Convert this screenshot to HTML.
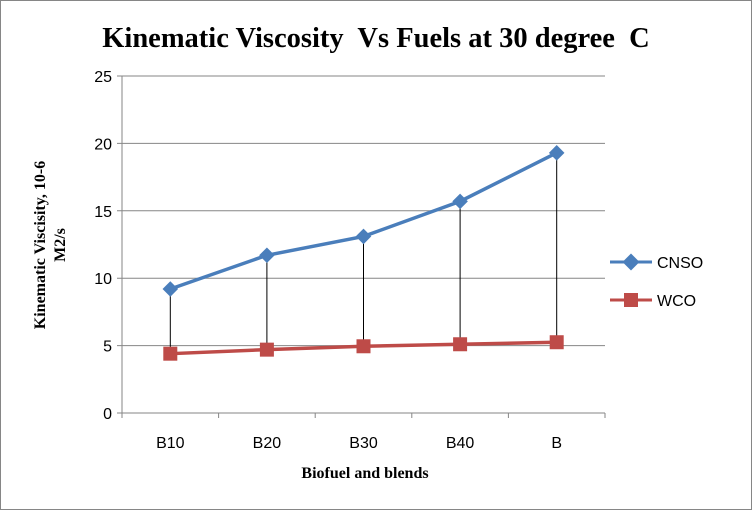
<!DOCTYPE html>
<html><head><meta charset="utf-8"><style>
body{margin:0;background:#fff}
svg{display:block}
text{font-family:"Liberation Serif",serif}
</style></head><body>
<svg id="c" width="752" height="510">
<rect x="0.5" y="0.5" width="751" height="509" fill="#fff" stroke="#868686"/>
<text x="376" y="47" text-anchor="middle" font-size="28.5" font-weight="bold" style="white-space:pre" xml:space="preserve">Kinematic Viscosity  Vs Fuels at 30 degree  C</text>
<g id="grid"></g><g id="axes"></g><g id="drops"></g><g id="series"></g>
<text x="365" y="478" text-anchor="middle" font-size="16" font-weight="bold">Biofuel and blends</text>
<text transform="translate(45,245) rotate(-90)" text-anchor="middle" font-size="16" font-weight="bold"><tspan x="0" dy="0">Kinematic Viscisity, 10-6</tspan><tspan x="0" dy="20">M2/s</tspan></text>
<g>
<g><line x1="610" y1="262" x2="652" y2="262" stroke="#4a7ebb" stroke-width="3"/><rect x="625" y="256" width="12" height="12" fill="#4a7ebb" transform="rotate(45 631 262)"/><text x="657" y="268" font-size="16" style="font-family:'Liberation Sans',sans-serif">CNSO</text></g>
<g><line x1="610" y1="300" x2="652" y2="300" stroke="#be4b48" stroke-width="3"/><rect x="624" y="293" width="14" height="14" fill="#be4b48"/><text x="657" y="306" font-size="16" style="font-family:'Liberation Sans',sans-serif">WCO</text></g>
</g>
</svg>
<script>
const categories=["B10","B20","B30","B40","B"];
const cnso=[9.2,11.7,13.1,15.7,19.3];
const wco=[4.4,4.7,4.95,5.1,5.25];
const yTicks=[0,5,10,15,20,25];
const NS="http://www.w3.org/2000/svg";
const L=122,R=605,T=76,B=413,yMax=25;
const xs=i=>L+(R-L)/categories.length*(i+0.5);
const ys=v=>B-(B-T)*v/yMax;
function mk(tag,attrs,parent){const e=document.createElementNS(NS,tag);for(const k in attrs)e.setAttribute(k,attrs[k]);document.getElementById(parent).appendChild(e);return e;}
yTicks.forEach(t=>{
 const g=mk('line',{x1:L-5,x2:R,y1:ys(t),y2:ys(t),stroke:'#868686','stroke-width':1},'grid');
 
 
 const tx=mk('text',{x:L-10,y:ys(t)+6,'text-anchor':'end','font-size':16},'axes');
 tx.style.fontFamily="'Liberation Sans',sans-serif";
 tx.textContent=t;
 
 
});
const ya=mk('line',{x1:L,x2:L,y1:T,y2:B,stroke:'#868686'},'axes');


for(let i=0;i<=categories.length;i++){const x=L+(R-L)/categories.length*i;mk('line',{x1:x,x2:x,y1:B,y2:B+5,stroke:'#868686'},'axes');}
categories.forEach((c,i)=>{
 const tx=mk('text',{x:xs(i),y:B+35,'text-anchor':'middle','font-size':16},'axes');
 tx.style.fontFamily="'Liberation Sans',sans-serif";
 tx.textContent=c;
 
 
 const d=mk('line',{x1:xs(i),x2:xs(i),y1:ys(cnso[i]),y2:ys(wco[i]),stroke:'#000'},'drops');
 
 
});
function series(vals,color,name,marker){
 const p=mk('polyline',{points:vals.map((v,i)=>xs(i)+','+ys(v)).join(' '),fill:'none',stroke:color,'stroke-width':3.5},'series');
 
 
 vals.forEach((v,i)=>{
  let m;
  if(marker==='d'){m=mk('rect',{x:xs(i)-5.5,y:ys(v)-5.5,width:11,height:11,fill:color,transform:`rotate(45 ${xs(i)} ${ys(v)})`},'series');}
  else{m=mk('rect',{x:xs(i)-7,y:ys(v)-7,width:14,height:14,fill:color},'series');}
  
  
 });
}
series(cnso,'#4a7ebb','cnso','d');
series(wco,'#be4b48','wco','s');
</script>
</body></html>
